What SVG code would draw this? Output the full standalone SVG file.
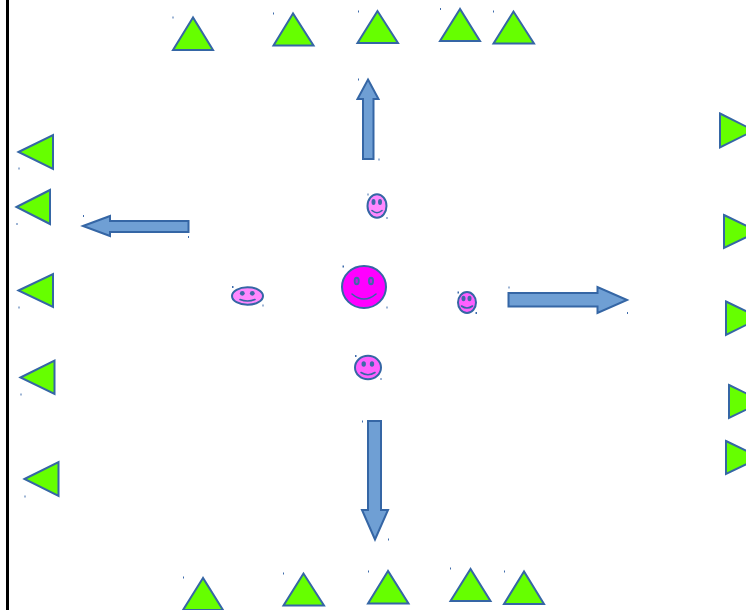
<svg xmlns="http://www.w3.org/2000/svg" width="746" height="610" viewBox="0 0 746 610">
<style>
.t{fill:#66ff00;stroke:#3566a5;stroke-width:2;stroke-linejoin:miter}
.a{fill:#6f9fd4;stroke:#3566a5;stroke-width:2}
.f{stroke:#3566a5;stroke-width:2}
.e{fill:#3f68a8}
.s{fill:none;stroke:#3566a5;stroke-width:1.6;stroke-linecap:round}
.d{fill:#3f6cab}
</style>
<rect width="746" height="610" fill="#fff"/>
<rect id="border" x="6" y="0" width="3" height="610" fill="#000"/>
<g id="top-triangles">
<polygon id="top1" class="t" points="193,17.500 173,50 213,50"/>
<polygon id="top2" class="t" points="293,13.500 273.500,45.500 313.500,45.500"/>
<polygon id="top3" class="t" points="377.500,11 357.500,43 398,43"/>
<polygon id="top4" class="t" points="460,9 440,41 480,41"/>
<polygon id="top5" class="t" points="513.500,11.500 493.500,43.500 534,43.500"/>
</g>
<g id="bottom-triangles">
<polygon id="bottom1" class="t" points="203,578 183,610 223,610"/>
<polygon id="bottom2" class="t" points="303.500,573.500 283.500,605.500 324,605.500"/>
<polygon id="bottom3" class="t" points="388,571 368,603.500 408.500,603.500"/>
<polygon id="bottom4" class="t" points="470.500,569 450.500,601 490.500,601"/>
<polygon id="bottom5" class="t" points="524,571.500 504,604 544,604"/>
</g>
<g id="left-triangles">
<polygon id="left1" class="t" points="18.500,152 53,135 53,169"/>
<polygon id="left2" class="t" points="16.500,207 50,190 50,224"/>
<polygon id="left3" class="t" points="18.500,290.500 53,274 53,307"/>
<polygon id="left4" class="t" points="20.500,377.500 54.500,360.500 54.500,394"/>
<polygon id="left5" class="t" points="24.500,479 58.500,462 58.500,496"/>
</g>
<g id="right-triangles">
<polygon id="right1" class="t" points="720,113.500 754,130.500 720,147.500"/>
<polygon id="right2" class="t" points="724,215 758,231.500 724,248"/>
<polygon id="right3" class="t" points="726,301.500 760,318 726,335"/>
<polygon id="right4" class="t" points="729,385 763,401.500 729,418"/>
<polygon id="right5" class="t" points="726,441 760,457.500 726,474"/>
</g>
<g id="connectors">
<polygon id="arrow-up" class="a" points="368,79.500 378.500,99 373.500,99 373.500,159 363,159 363,99 357.500,99"/>
<polygon id="arrow-left" class="a" points="83,226 110,216 110,221 188.500,221 188.500,232 110,232 110,236"/>
<polygon id="arrow-right" class="a" points="627,300 597.500,287 597.500,293 508.500,293 508.500,306.500 597.500,306.500 597.500,313"/>
<polygon id="arrow-down" class="a" points="375,539.500 362,510 368,510 368,421 381,421 381,510 388,510"/>
</g>
<g id="face-center">
<ellipse class="f" cx="364" cy="287" rx="22" ry="21" fill="#ff00ff"/>
<ellipse class="e" cx="356.700" cy="281" rx="3" ry="4.200"/><ellipse class="e" cx="371" cy="281" rx="3" ry="4.200"/>
<ellipse cx="356.700" cy="281" rx="1.200" ry="2.200" fill="#c020e0"/><ellipse cx="371" cy="281" rx="1.200" ry="2.200" fill="#c020e0"/>
<path class="s" d="M352 294Q364 304 376 294"/>
</g>
<g id="face-top">
<ellipse class="f" cx="377" cy="206" rx="9.500" ry="11.700" fill="#ff88ff"/>
<ellipse class="e" cx="373.500" cy="202" rx="2" ry="3"/><ellipse class="e" cx="380" cy="202" rx="2" ry="3"/>
<path class="s" d="M372 210.500Q377 215 382 210.500"/>
</g>
<g id="face-right">
<ellipse class="f" cx="467" cy="302.500" rx="9" ry="10.500" fill="#ff60ff"/>
<ellipse class="e" cx="463.500" cy="298.500" rx="2" ry="2.800"/><ellipse class="e" cx="469.500" cy="298.500" rx="2" ry="2.800"/>
<path class="s" d="M461.500 306Q467 310 472.500 306"/>
</g>
<g id="face-bottom">
<ellipse class="f" cx="368" cy="367.500" rx="13" ry="11.800" fill="#ff60ff"/>
<ellipse class="e" cx="363.700" cy="364" rx="2.200" ry="2.800"/><ellipse class="e" cx="372" cy="364" rx="2.200" ry="2.800"/>
<path class="s" d="M361 372.500Q368 377 375 372.500"/>
</g>
<g id="face-left">
<ellipse class="f" cx="247.500" cy="296" rx="15.500" ry="8.800" fill="#ff88ff"/>
<ellipse class="e" cx="242.300" cy="293.300" rx="2.400" ry="2.400"/><ellipse class="e" cx="252.300" cy="293.300" rx="2.400" ry="2.400"/>
<path class="s" d="M240 299.500Q247.500 302.500 255 299.500"/>
</g>
<g id="handles" class="d">
<rect x="172.500" y="16.500" width="1" height="2"/><rect x="273" y="12.500" width="1" height="2"/><rect x="358" y="10.500" width="1" height="2"/><rect x="440" y="8" width="1" height="2"/><rect x="493" y="10.500" width="1" height="2"/>
<rect x="183" y="576.500" width="1" height="2"/><rect x="283" y="572.500" width="1" height="2"/><rect x="368" y="570.500" width="1" height="2"/><rect x="450" y="567.500" width="1" height="2"/><rect x="504" y="570.500" width="1" height="2"/>
<rect x="18.500" y="167.500" width="1" height="2"/><rect x="16.500" y="223" width="1" height="2"/><rect x="18.500" y="306.500" width="1" height="2"/><rect x="20.500" y="393.500" width="1" height="2"/><rect x="24.500" y="495.500" width="1" height="2"/>
<rect x="358" y="78.500" width="1" height="2"/><rect x="378.500" y="158.500" width="1" height="2"/><rect x="83" y="215" width="1" height="2"/><rect x="188" y="236" width="1" height="2"/><rect x="508.500" y="286.500" width="1" height="2"/><rect x="627" y="312" width="1" height="2"/><rect x="362" y="420.500" width="1" height="2"/><rect x="388" y="538.500" width="1" height="2"/>
<rect x="367.500" y="193.500" width="1" height="2"/><rect x="386.500" y="217" width="1" height="2"/><rect x="342.500" y="265.500" width="1.500" height="2"/><rect x="386.500" y="306.500" width="1" height="2"/><rect x="457.500" y="291.500" width="1.500" height="2"/><rect x="475.500" y="312" width="1.500" height="2"/><rect x="355" y="355" width="1.500" height="2"/><rect x="380.500" y="378" width="1" height="2"/><rect x="232" y="286" width="1.500" height="2"/><rect x="262.500" y="304.500" width="1" height="2"/>
</g>
</svg>
